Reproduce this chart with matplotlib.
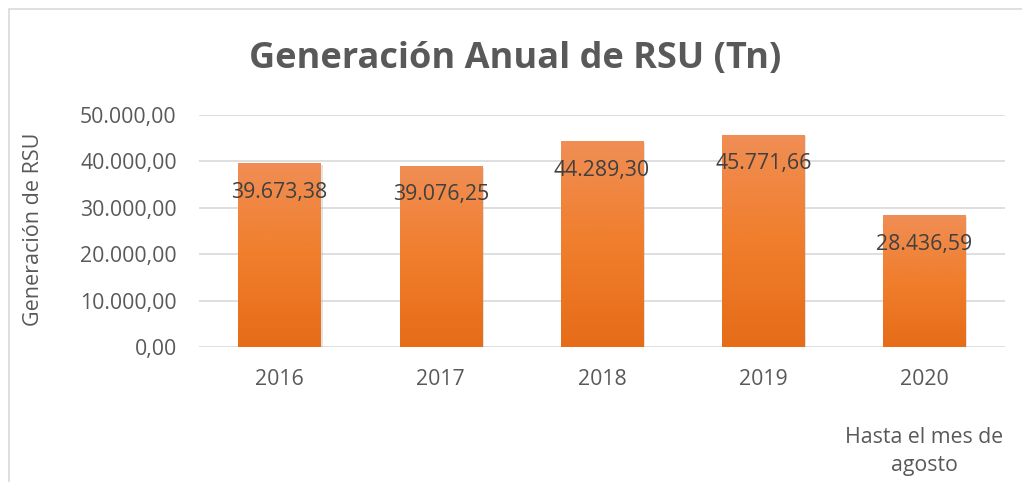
import numpy as np
import matplotlib
matplotlib.use("Agg")
import matplotlib.pyplot as plt
from matplotlib.patches import Rectangle

plt.rcParams["font.family"] = ["Open Sans", "DejaVu Sans"]

# data
years = ["2016", "2017", "2018", "2019", "2020\n\nHasta el mes de\nagosto"]
rsu = [39673.38, 39076.25, 44289.30, 45771.66, 28436.59]
labels = ["39.673,38", "39.076,25", "44.289,30", "45.771,66", "28.436,59"]
yticks = [0, 10000, 20000, 30000, 40000, 50000]
ytick_labels = ["0,00", "10.000,00", "20.000,00", "30.000,00", "40.000,00", "50.000,00"]

fig = plt.figure(figsize=(10.22, 4.82), dpi=100)
ax = fig.add_axes([199 / 1022, 1 - 347 / 482, (1005 - 199) / 1022, (347 - 115) / 482])

# chart border (only top and left visible)
fig.patches.append(Rectangle((9 / 1022, -0.1), 1.2, (482 - 9) / 482 + 0.1,
                             transform=fig.transFigure, fill=False,
                             edgecolor="#d9d9d9", linewidth=1.2))

x = np.arange(len(years))
width = 0.51

# shadow
ax.bar(x + 0.012, rsu, width=width, bottom=-400, color="#b0b0b0", alpha=0.35, zorder=2)
bars = ax.bar(x, rsu, width=width, color="#ef7d30", zorder=3)

# vertical gradient on each bar
grad = np.linspace(0, 1, 256).reshape(-1, 1)
cmap = matplotlib.colors.LinearSegmentedColormap.from_list(
    "og", ["#e66c18", "#f07e2c", "#f08e55"])
for b in bars:
    x0, y0 = b.get_x(), b.get_y()
    im = ax.imshow(grad, cmap=cmap, aspect="auto", origin="lower",
                   extent=[x0, x0 + b.get_width(), y0, y0 + b.get_height()], zorder=4)
    im.set_clip_path(b)

for xi, v, lab in zip(x, rsu, labels):
    ax.annotate(lab, (xi, v), xytext=(0, -21), textcoords="offset points",
                ha="center", va="center", fontsize=15.3, color="#404040", zorder=5)

ax.set_xlim(-0.5, len(years) - 0.5)
ax.set_ylim(0, 50000)
ax.set_yticks(yticks)
ax.set_yticklabels(ytick_labels)
ax.set_xticks(x)
ax.set_xticklabels(years, linespacing=1.48)
ax.tick_params(axis="both", length=0, labelsize=15.3, labelcolor="#595959")
ax.tick_params(axis="y", pad=16)
ax.tick_params(axis="x", pad=16)
ax.grid(axis="y", color="#d9d9d9", linewidth=1.2, zorder=0)
ax.set_axisbelow(True)
for s in ax.spines.values():
    s.set_visible(False)

ax.set_ylabel("Generación de RSU", fontsize=15.5, color="#595959")
ax.yaxis.set_label_coords((44 - 199) / 806, 0.509)
fig.text(515 / 1022, 1 - 59 / 482, "Generación Anual de RSU (Tn)", ha="center", va="center",
         fontsize=26, fontweight="bold", color="#595959")

fig.savefig("out.png", dpi=100)
